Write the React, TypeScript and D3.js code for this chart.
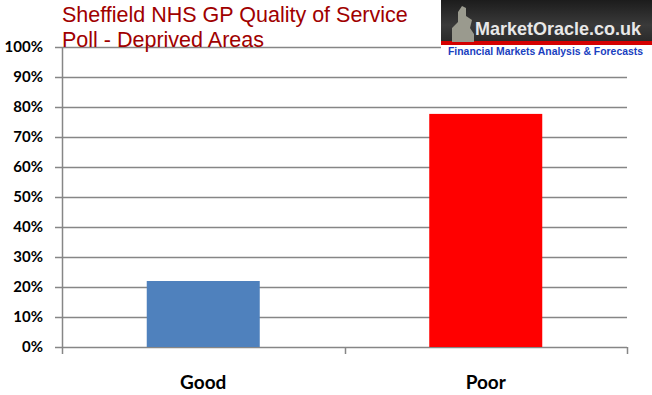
import React, { useRef, useEffect } from "react";
import * as d3 from "d3";

const width = 652;
const height = 395;

const categories = ["Good", "Poor"];
const values = [22, 77.7];
const barColors = ["#4f81bd", "#ff0000"];
const yTicks = [0, 10, 20, 30, 40, 50, 60, 70, 80, 90, 100];

const margin = { left: 62, right: 25, top: 47, bottom: 48 };

export default function App() {
  const ref = useRef<SVGSVGElement | null>(null);

  useEffect(() => {
    const svg = d3.select(ref.current);
    svg.selectAll("*").remove();

    const x = d3
      .scaleBand()
      .domain(categories)
      .range([margin.left, width - margin.right])
      .paddingInner(0.6)
      .paddingOuter(0.3);

    const y = d3
      .scaleLinear()
      .domain([0, 100])
      .range([height - margin.bottom, margin.top]);

    const font = "Lato, 'Open Sans', sans-serif";

    // gridlines
    svg
      .append("g")
      .selectAll("line")
      .data(yTicks)
      .enter()
      .append("line")
      .attr("x1", margin.left - 7)
      .attr("x2", width - margin.right)
      .attr("y1", (d) => Math.round(y(d)) + 0.5)
      .attr("y2", (d) => Math.round(y(d)) + 0.5)
      .attr("stroke", "#868686")
      .attr("stroke-width", 1.5);

    // category boundary ticks
    const step = x.step();
    const bounds = [margin.left, margin.left + step, width - margin.right];
    svg
      .append("g")
      .selectAll("line")
      .data(bounds)
      .enter()
      .append("line")
      .attr("x1", (d) => Math.round(d) + 0.5)
      .attr("x2", (d) => Math.round(d) + 0.5)
      .attr("y1", (d, i) => (i === 0 ? margin.top : y(0)))
      .attr("y2", y(0) + 7)
      .attr("stroke", "#868686")
      .attr("stroke-width", 1.5);

    // bars
    svg
      .append("g")
      .selectAll("rect")
      .data(values)
      .enter()
      .append("rect")
      .attr("x", (d, i) => x(categories[i])!)
      .attr("y", (d) => y(d))
      .attr("width", x.bandwidth())
      .attr("height", (d) => y(0) - y(d))
      .attr("fill", (d, i) => barColors[i]);

    // y tick labels
    svg
      .append("g")
      .selectAll("text")
      .data(yTicks)
      .enter()
      .append("text")
      .attr("x", 43)
      .attr("y", (d) => y(d) + 5)
      .attr("text-anchor", "end")
      .attr("font-family", font)
      .attr("font-weight", "bold")
      .attr("font-size", 15)
      .attr("fill", "#000")
      .text((d) => d + "%");

    // x labels
    svg
      .append("g")
      .selectAll("text")
      .data(categories)
      .enter()
      .append("text")
      .attr("x", (d) => x(d)! + x.bandwidth() / 2)
      .attr("y", 389)
      .attr("text-anchor", "middle")
      .attr("font-family", font)
      .attr("font-weight", "bold")
      .attr("font-size", 19)
      .attr("fill", "#000")
      .text((d) => d);

    // title
    const title = svg
      .append("text")
      .attr("font-family", "Arial, 'Liberation Sans', sans-serif")
      .attr("font-size", 21.5)
      .attr("fill", "#a00000");
    title.append("tspan").attr("x", 62).attr("y", 22).text("Sheffield NHS GP Quality of Service");
    title.append("tspan").attr("x", 62).attr("y", 47).text("Poll - Deprived Areas");

    // logo
    const logo = svg.append("g");
    const defs = svg.append("defs");
    const grad = defs
      .append("linearGradient")
      .attr("id", "logoGrad")
      .attr("x1", 0)
      .attr("y1", 0)
      .attr("x2", 0)
      .attr("y2", 1);
    grad.append("stop").attr("offset", "0%").attr("stop-color", "#1c1c1c");
    grad.append("stop").attr("offset", "60%").attr("stop-color", "#3a3a3a");
    grad.append("stop").attr("offset", "100%").attr("stop-color", "#2a2a2a");
    logo.append("rect").attr("x", 441).attr("y", 0).attr("width", 211).attr("height", 42).attr("fill", "url(#logoGrad)");
    logo.append("rect").attr("x", 441).attr("y", 41).attr("width", 211).attr("height", 4).attr("fill", "#d40000");
    logo.append("rect").attr("x", 441).attr("y", 45).attr("width", 211).attr("height", 15).attr("fill", "#fff");
    // statue silhouette
    logo
      .append("path")
      .attr("d", "M452,42 L452,28 L458,22 L458,12 L462,6 L466,8 L466,16 L472,20 L470,28 L474,34 L474,42 Z")
      .attr("fill", "#9a9a8e");
    logo
      .append("text")
      .attr("x", 475)
      .attr("y", 35)
      .attr("font-family", "Arial, 'Liberation Sans', sans-serif")
      .attr("font-weight", "bold")
      .attr("font-size", 18.5)
      .attr("fill", "#e8e8e8")
      .attr("textLength", 166)
      .attr("lengthAdjust", "spacingAndGlyphs")
      .text("MarketOracle.co.uk");
    logo
      .append("text")
      .attr("x", 448)
      .attr("y", 55)
      .attr("font-family", "Arial, 'Liberation Sans', sans-serif")
      .attr("font-weight", "bold")
      .attr("font-size", 10.5)
      .attr("fill", "#1a3fc0")
      .attr("textLength", 195)
      .attr("lengthAdjust", "spacingAndGlyphs")
      .text("Financial Markets Analysis & Forecasts");
  }, []);

  return (
    <div style={{ position: "absolute", left: 0, top: 0 }}>
      <svg ref={ref} width={width} height={height} style={{ display: "block", background: "#fff" }} />
    </div>
  );
}
